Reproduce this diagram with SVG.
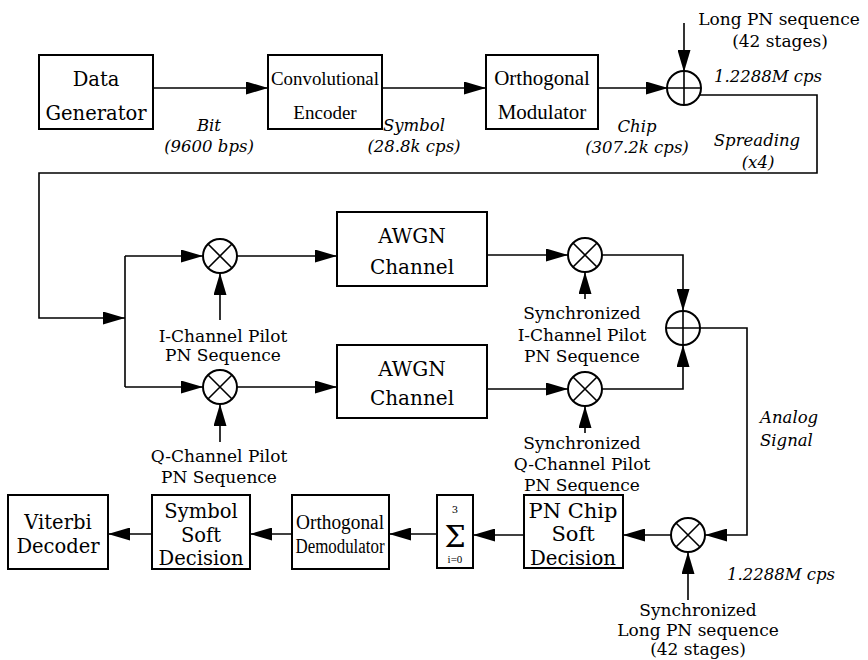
<svg xmlns="http://www.w3.org/2000/svg" width="868" height="660" viewBox="0 0 868 660">
<defs>
<marker id="ah" markerUnits="userSpaceOnUse" markerWidth="22" markerHeight="13" refX="22" refY="6.5" orient="auto">
<path d="M0,0 L22,6.5 L0,13 z" fill="#000"/>
</marker>
<g id="mul"><circle r="17" fill="#fff" stroke="#000" stroke-width="2"/><path d="M-12,-12 L12,12 M12,-12 L-12,12" stroke="#000" stroke-width="1.6"/></g>
<g id="add"><circle r="17" fill="#fff" stroke="#000" stroke-width="2"/><path d="M-17,0 L17,0 M0,-17 L0,17" stroke="#000" stroke-width="1.6"/></g>
</defs>
<style>
.box{fill:#fff;stroke:#000;stroke-width:2}
text{fill:#000;text-anchor:middle}
.ds{font-family:'DejaVu Serif','Noto Serif','Liberation Serif','Times New Roman',Times,serif}
.ls{font-family:'Liberation Serif','Times New Roman','Noto Serif','DejaVu Serif',Times,serif}
.s{font-size:17px}
.b{font-size:19.5px}
.it{font-style:italic;font-size:16.5px}
.ln{fill:none;stroke:#000;stroke-width:1.6}
.ar{fill:none;stroke:#000;stroke-width:1.6;marker-end:url(#ah)}
</style>
<rect width="868" height="660" fill="#fff"/>

<g id="connectors">
<path class="ar" d="M153,88 H268"/>
<path class="ar" d="M382,88 H486"/>
<path class="ar" d="M598,88 H668"/>
<path class="ar" d="M684,23 V72"/>
<path class="ar" d="M698,95 H817 V173 H39 V318 H125"/>
<path class="ln" d="M125,256 V387"/>
<path class="ar" d="M125,256 H203"/>
<path class="ar" d="M125,387 H203"/>
<path class="ar" d="M237,256 H337"/>
<path class="ar" d="M237,387 H337"/>
<path class="ar" d="M220,320 V273"/>
<path class="ar" d="M220,442 V404"/>
<path class="ar" d="M487,255 H568"/>
<path class="ar" d="M487,389 H568"/>
<path class="ar" d="M585,299 V272"/>
<path class="ar" d="M585,433 V406"/>
<path class="ar" d="M602,255 H683 V311"/>
<path class="ar" d="M602,389 H683 V345"/>
<path class="ar" d="M700,328 H747 V535 H705"/>
<path class="ar" d="M688,600 V552"/>
<path class="ar" d="M671,535 H623"/>
<path class="ar" d="M524,535 H473"/>
<path class="ar" d="M437,534 H389"/>
<path class="ar" d="M292,534 H250"/>
<path class="ar" d="M152,534 H108"/>
</g>

<g id="data-generator">
<rect class="box" x="39" y="55" width="114" height="74"/>
<text class="ds b" x="96" y="86">Data</text>
<text class="ds b" x="96" y="120">Generator</text>
</g>
<g id="conv-encoder">
<rect class="box" x="268" y="55" width="114" height="74"/>
<text class="ls" font-size="19" x="325" y="85" textLength="108" lengthAdjust="spacingAndGlyphs">Convolutional</text>
<text class="ls" font-size="19" x="325" y="119">Encoder</text>
</g>
<g id="orth-modulator">
<rect class="box" x="486" y="55" width="112" height="74"/>
<text class="ls" font-size="21" x="542" y="85">Orthogonal</text>
<text class="ls" font-size="21" x="542" y="119">Modulator</text>
</g>
<g id="xor-spread"><use href="#add" x="684" y="88"/></g>

<g id="labels-top">
<text class="ds it" x="209" y="131">Bit</text>
<text class="ds it" x="209" y="152">(9600 bps)</text>
<text class="ds it" x="414" y="131">Symbol</text>
<text class="ds it" x="414" y="152">(28.8k cps)</text>
<text class="ds it" x="637" y="132">Chip</text>
<text class="ds it" x="637" y="153">(307.2k cps)</text>
<text class="ds it" x="757" y="146">Spreading</text>
<text class="ds it" x="758" y="168">(x4)</text>
<text class="ds it" x="768" y="82">1.2288M cps</text>
<text class="ds s" x="779" y="25">Long PN sequence</text>
<text class="ds s" x="780" y="47">(42 stages)</text>
</g>

<g id="mult-i"><use href="#mul" x="220" y="256"/></g>
<g id="mult-q"><use href="#mul" x="220" y="387"/></g>
<g id="awgn-i">
<rect class="box" x="337" y="212" width="150" height="74"/>
<text class="ds" font-size="20" x="412" y="243">AWGN</text>
<text class="ds" font-size="20" x="412" y="274">Channel</text>
</g>
<g id="awgn-q">
<rect class="box" x="337" y="345" width="150" height="73"/>
<text class="ds" font-size="20" x="412" y="376">AWGN</text>
<text class="ds" font-size="20" x="412" y="405">Channel</text>
</g>
<g id="mult-i-sync"><use href="#mul" x="585" y="255"/></g>
<g id="mult-q-sync"><use href="#mul" x="585" y="389"/></g>
<g id="adder"><use href="#add" x="683" y="328"/></g>
<g id="mult-long"><use href="#mul" x="688" y="535"/></g>

<g id="labels-mid">
<text class="ds s" x="223" y="342">I-Channel Pilot</text>
<text class="ds s" x="223" y="361">PN Sequence</text>
<text class="ds s" x="219" y="462">Q-Channel Pilot</text>
<text class="ds s" x="219" y="483">PN Sequence</text>
<text class="ds s" x="582" y="319">Synchronized</text>
<text class="ds s" x="582" y="341">I-Channel Pilot</text>
<text class="ds s" x="582" y="362">PN Sequence</text>
<text class="ds s" x="582" y="449">Synchronized</text>
<text class="ds s" x="582" y="470">Q-Channel Pilot</text>
<text class="ds s" x="582" y="491">PN Sequence</text>
<text class="ds it" x="760" y="423" style="text-anchor:start">Analog</text>
<text class="ds it" x="760" y="446" style="text-anchor:start">Signal</text>
<text class="ds it" x="781" y="580">1.2288M cps</text>
<text class="ds s" x="698" y="616">Synchronized</text>
<text class="ds s" x="698" y="636">Long PN sequence</text>
<text class="ds s" x="698" y="655">(42 stages)</text>
</g>

<g id="pn-chip">
<rect class="box" x="524" y="495" width="99" height="73"/>
<text class="ds" font-size="21" x="573" y="518">PN Chip</text>
<text class="ds" font-size="21" x="573" y="541">Soft</text>
<text class="ds" font-size="21" x="573" y="565" textLength="86" lengthAdjust="spacingAndGlyphs">Decision</text>
</g>
<g id="sum">
<rect class="box" x="437" y="495" width="36" height="73"/>
<text class="ds" font-size="10" x="455" y="513">3</text>
<text class="ds" font-size="30" x="455" y="547">Σ</text>
<text class="ls" font-size="11" x="455" y="563">i=0</text>
</g>
<g id="orth-demod">
<rect class="box" x="292" y="495" width="97" height="74"/>
<text class="ls" font-size="20" x="340" y="529" textLength="88" lengthAdjust="spacingAndGlyphs">Orthogonal</text>
<text class="ls" font-size="20" x="340" y="553" textLength="89" lengthAdjust="spacingAndGlyphs">Demodulator</text>
</g>
<g id="symbol-soft">
<rect class="box" x="152" y="495" width="98" height="74"/>
<text class="ds b" x="201" y="518">Symbol</text>
<text class="ds b" x="201" y="542">Soft</text>
<text class="ds b" x="201" y="565">Decision</text>
</g>
<g id="viterbi">
<rect class="box" x="8" y="495" width="100" height="74"/>
<text class="ds b" x="58" y="529">Viterbi</text>
<text class="ds b" x="58" y="553">Decoder</text>
</g>
</svg>
